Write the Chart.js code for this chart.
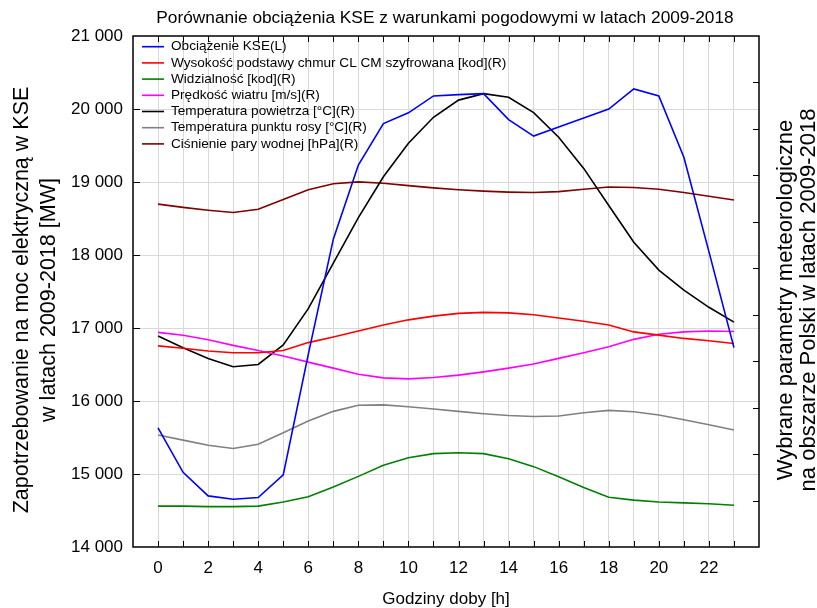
<!DOCTYPE html>
<html>
<head>
<meta charset="utf-8">
<script src="https://cdn.jsdelivr.net/npm/chart.js@4"></script>
<style>
  html, body { margin: 0; padding: 0; background: #fff; }
  #wrap { width: 817px; height: 608px; }
</style>
</head>
<body>
<div id="wrap"><canvas id="wykres" width="817" height="608"></canvas></div>
<script>
// godziny doby
const godziny = [0,1,2,3,4,5,6,7,8,9,10,11,12,13,14,15,16,17,18,19,20,21,22,23];

// lewa os [MW]
const obciazenieKSE = [15633,15023,14700,14654,14677,14987,16639,18217,19232,19800,19948,20179,20197,20211,19855,19629,19754,19878,19999,20275,20179,19339,18046,16731];

// prawa os (parametry pogodowe)
const wysokoscChmur = [3.33,3.28,3.22,3.18,3.18,3.23,3.40,3.52,3.65,3.78,3.89,3.97,4.03,4.05,4.04,4.00,3.93,3.86,3.78,3.63,3.56,3.49,3.44,3.38];
const widzialnosc = [-0.12,-0.12,-0.13,-0.13,-0.12,-0.03,0.08,0.29,0.52,0.76,0.92,1.01,1.03,1.01,0.90,0.73,0.51,0.28,0.07,0.01,-0.03,-0.05,-0.07,-0.10];
const predkoscWiatru = [3.62,3.56,3.46,3.34,3.23,3.11,2.98,2.85,2.72,2.64,2.62,2.65,2.70,2.77,2.85,2.94,3.06,3.18,3.31,3.47,3.58,3.63,3.65,3.64];
const tempPowietrza = [3.54,3.29,3.06,2.88,2.93,3.35,4.13,5.11,6.09,6.97,7.69,8.25,8.62,8.76,8.68,8.35,7.82,7.15,6.35,5.56,4.96,4.53,4.16,3.84];
const tempRosy = [1.41,1.30,1.19,1.12,1.21,1.46,1.71,1.92,2.05,2.06,2.02,1.97,1.92,1.87,1.83,1.81,1.82,1.89,1.94,1.91,1.84,1.74,1.63,1.52];
const cisnieniePary = [6.38,6.31,6.25,6.20,6.27,6.48,6.69,6.82,6.86,6.83,6.78,6.73,6.69,6.66,6.64,6.63,6.65,6.70,6.75,6.74,6.70,6.63,6.55,6.47];

const FONT = '"Liberation Sans", Arial, sans-serif';

function punkty(arr) {
  return godziny.map((h, i) => ({ x: h, y: arr[i] }));
}

function seria(label, arr, kolor, os) {
  return {
    label: label,
    data: punkty(arr),
    borderColor: kolor,
    backgroundColor: kolor,
    borderWidth: 1.6,
    pointRadius: 0,
    tension: 0,
    yAxisID: os
  };
}

const serie = [
  seria('Obciążenie KSE(L)', obciazenieKSE, '#0000ff', 'y'),
  seria('Wysokość podstawy chmur CL CM szyfrowana [kod](R)', wysokoscChmur, '#ff0000', 'y2'),
  seria('Widzialność [kod](R)', widzialnosc, '#008000', 'y2'),
  seria('Prędkość wiatru [m/s](R)', predkoscWiatru, '#ff00ff', 'y2'),
  seria('Temperatura powietrza [°C](R)', tempPowietrza, '#000000', 'y2'),
  seria('Temperatura punktu rosy [°C](R)', tempRosy, '#808080', 'y2'),
  seria('Ciśnienie pary wodnej [hPa](R)', cisnieniePary, '#800000', 'y2')
];

// ramka, znaczniki, legenda i opisy osi
const dodatki = {
  id: 'dodatki',
  afterDraw(chart) {
    const c = chart.ctx;
    const a = chart.chartArea;
    const sx = chart.scales.x, sy = chart.scales.y, sy2 = chart.scales.y2;
    c.save();

    // znaczniki do srodka
    c.strokeStyle = '#000';
    c.lineWidth = 1;
    c.beginPath();
    godziny.forEach(h => {
      const px = Math.round(sx.getPixelForValue(h)) + 0.5;
      c.moveTo(px, a.bottom); c.lineTo(px, a.bottom - 6);
      c.moveTo(px, a.top); c.lineTo(px, a.top + 6);
    });
    for (let v = 15000; v <= 20000; v += 1000) {
      const py = Math.round(sy.getPixelForValue(v)) + 0.5;
      c.moveTo(a.left, py); c.lineTo(a.left + 7, py);
    }
    for (let v = 0; v <= 9; v++) {
      const py = Math.round(sy2.getPixelForValue(v)) + 0.5;
      c.moveTo(a.right, py); c.lineTo(a.right - 6, py);
    }
    c.stroke();

    // ramka
    c.lineWidth = 1.5;
    c.strokeRect(a.left, a.top, a.right - a.left, a.bottom - a.top);

    // legenda
    c.font = '13.6px ' + FONT;
    c.textBaseline = 'middle';
    c.textAlign = 'left';
    serie.forEach((s, i) => {
      const y = 46.7 + i * 16.2;
      c.strokeStyle = s.borderColor;
      c.lineWidth = 1.6;
      c.beginPath();
      c.moveTo(142, y); c.lineTo(164, y);
      c.stroke();
      c.fillStyle = '#000';
      c.fillText(s.label, 171, y);
    });

    // tytul
    const srodek = (a.left + a.right) / 2;
    c.fillStyle = '#000';
    c.textAlign = 'center';
    c.textBaseline = 'alphabetic';
    c.font = '17.3px ' + FONT;
    c.fillText('Porównanie obciążenia KSE z warunkami pogodowymi w latach 2009-2018', srodek - 1, 23);

    // opis osi x
    c.font = '17px ' + FONT;
    c.fillText('Godziny doby [h]', srodek, 604);

    // opisy osi y
    c.textBaseline = 'middle';
    c.save();
    c.font = '21.5px ' + FONT;
    c.translate(22, 300);
    c.rotate(-Math.PI / 2);
    c.fillText('Zapotrzebowanie na moc elektryczną w KSE', 0, 0);
    c.fillText('w latach 2009-2018 [MW]', 0, 27);
    c.restore();

    c.save();
    c.font = '22px ' + FONT;
    c.translate(786, 300);
    c.rotate(-Math.PI / 2);
    c.fillText('Wybrane parametry meteorologiczne', 0, 0);
    c.fillText('na obszarze Polski w latach 2009-2018', 0, 23);
    c.restore();

    c.restore();
  }
};

const ctx = document.getElementById('wykres').getContext('2d');
new Chart(ctx, {
  type: 'line',
  data: { datasets: serie },
  options: {
    responsive: false,
    animation: false,
    layout: { padding: { left: 0, right: 58, top: 36, bottom: 0 } },
    plugins: {
      legend: { display: false },
      title: { display: false },
      tooltip: { enabled: false }
    },
    scales: {
      x: {
        type: 'linear',
        min: -1,
        max: 24,
        afterFit(s) { s.height = 61; },
        ticks: {
          stepSize: 1,
          autoSkip: false,
          maxRotation: 0,
          padding: 11,
          color: '#000',
          font: { family: FONT, size: 17 },
          callback: v => (v >= 0 && v <= 22 && v % 2 === 0) ? String(v) : ''
        },
        grid: {
          drawTicks: false,
          color: c => (c.tick && (c.tick.value < 0 || c.tick.value > 23)) ? 'rgba(0,0,0,0)' : '#d9d9d9',
          lineWidth: 1
        },
        border: { display: false }
      },
      y: {
        position: 'left',
        min: 14000,
        max: 21000,
        afterFit(s) { s.width = 133; },
        ticks: {
          stepSize: 1000,
          padding: 10,
          color: '#000',
          font: { family: FONT, size: 17 },
          callback: v => String(v).replace(/\B(?=(\d{3})+(?!\d))/g, ' ')
        },
        grid: {
          drawTicks: false,
          color: c => (c.tick && (c.tick.value <= 14000 || c.tick.value >= 21000)) ? 'rgba(0,0,0,0)' : '#d9d9d9',
          lineWidth: 1
        },
        border: { display: false }
      },
      y2: {
        position: 'right',
        display: false,
        min: -1,
        max: 10
      }
    }
  },
  plugins: [dodatki]
});
</script>
</body>
</html>
